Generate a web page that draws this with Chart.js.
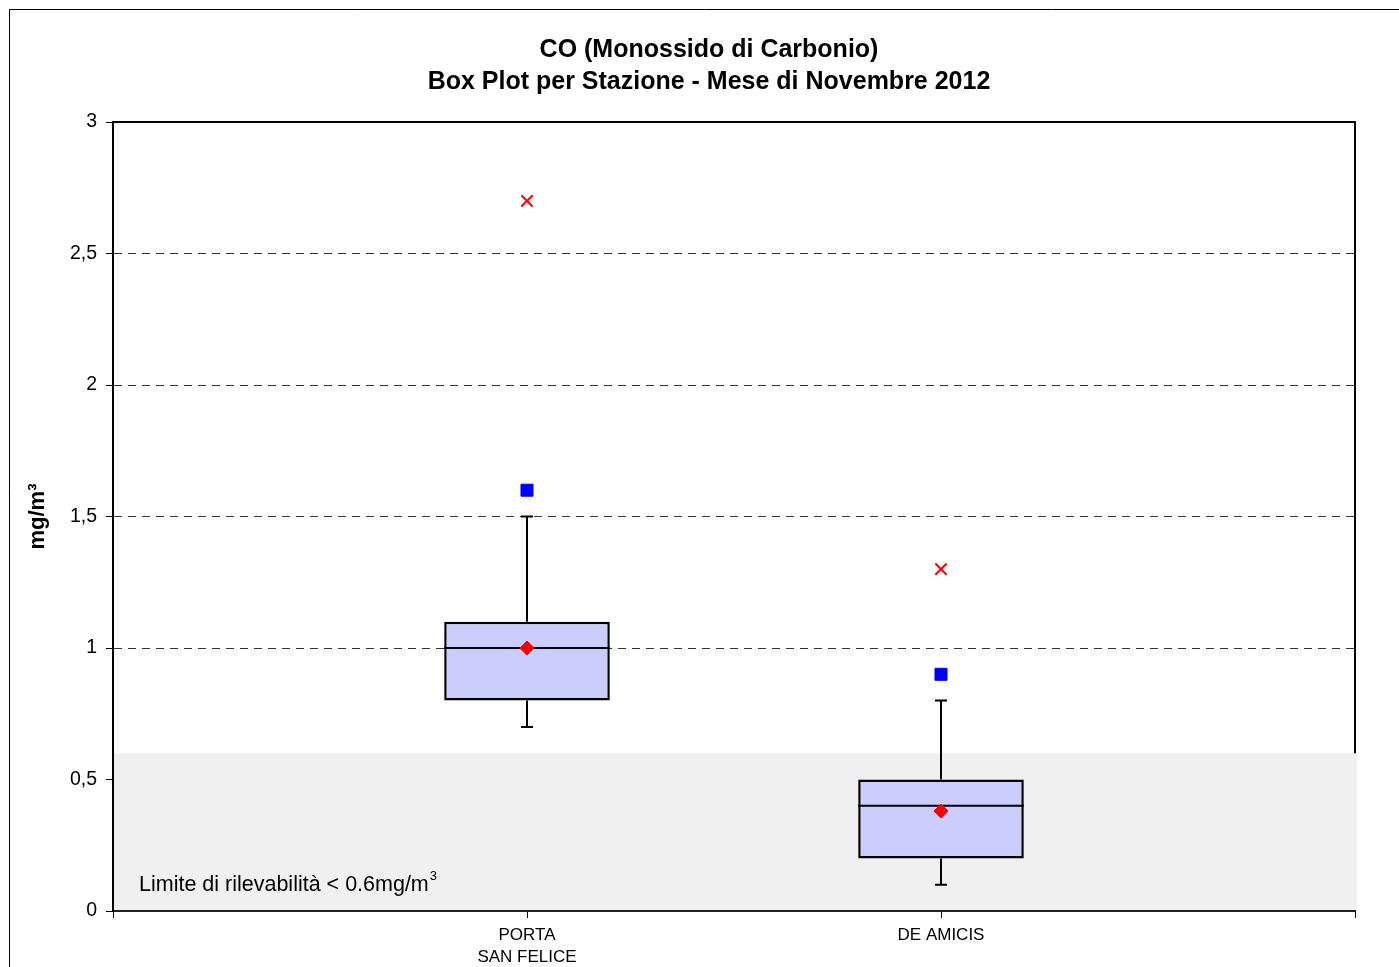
<!DOCTYPE html>
<html>
<head>
<meta charset="utf-8">
<script src="https://cdn.jsdelivr.net/npm/chart.js@4.4.0/dist/chart.umd.min.js"></script>
<style>
  html, body { margin: 0; padding: 0; background: #fff; }
  #wrap { width: 1399px; height: 967px; position: relative; }
  canvas { display: block; }
</style>
</head>
<body>
<div id="wrap"><canvas id="c" width="1399" height="967"></canvas></div>
<script>
// ---- data ----
const categories = [['PORTA', 'SAN FELICE'], 'DE AMICIS'];
const whiskerMin = [0.7, 0.1];
const q1 = [0.8, 0.2];
const median = [1.0, 0.4];
const q3 = [1.1, 0.5];
const whiskerMax = [1.5, 0.8];
const mean = [1.0, 0.38];
const p95 = [1.6, 0.9];      // blue square
const maxVal = [2.7, 1.3];   // red cross
const yTickLabels = ['0', '0,5', '1', '1,5', '2', '2,5', '3'];
const detectionLimit = 0.6;
const titleLines = ['CO (Monossido di Carbonio)', 'Box Plot per Stazione - Mese di Novembre 2012'];
const bandText = 'Limite di rilevabilità < 0.6mg/m';

// category axis with empty slots at both ends
const labels = [''].concat(categories, ['']);
const pad = arr => [null].concat(arr, [null]);
const boxData = pad(q1.map((v, i) => [v, q3[i]]));

const FONT = '"Liberation Sans", Arial, sans-serif';

const boxPlugin = {
  id: 'boxExtras',
  beforeDraw(chart) {
    const ctx = chart.ctx;
    ctx.save();
    ctx.strokeStyle = '#000';
    ctx.lineWidth = 1;
    ctx.beginPath();
    ctx.moveTo(9.5, 1000); ctx.lineTo(9.5, 9.5); ctx.lineTo(1420, 9.5);
    ctx.stroke();
    // title
    ctx.fillStyle = '#000';
    ctx.font = 'bold 25px ' + FONT;
    ctx.textAlign = 'center';
    ctx.textBaseline = 'middle';
    ctx.fillText(titleLines[0], 709, 50);
    ctx.fillText(titleLines[1], 709, 82);
    ctx.restore();
  },
  beforeDatasetsDraw(chart) {
    const ctx = chart.ctx;
    const a = chart.chartArea;
    const y = chart.scales.y;
    const yTop = y.getPixelForValue(detectionLimit);
    const yBot = y.getPixelForValue(0);
    ctx.save();
    ctx.fillStyle = '#f0f0f0';
    ctx.fillRect(a.left + 1, yTop, a.right - a.left + 1, yBot - yTop - 1);
    // top and right frame
    ctx.strokeStyle = '#000';
    ctx.lineWidth = 2;
    ctx.beginPath();
    ctx.moveTo(a.left, a.top);
    ctx.lineTo(a.right, a.top);
    ctx.lineTo(a.right, yTop);
    ctx.stroke();
    // band text
    ctx.fillStyle = '#000';
    ctx.font = '21.5px ' + FONT;
    ctx.textAlign = 'left';
    ctx.textBaseline = 'alphabetic';
    ctx.fillText(bandText, 139, 891);
    const w = ctx.measureText(bandText).width;
    ctx.font = '13px ' + FONT;
    ctx.fillText('3', 139 + w + 1, 880);
    ctx.restore();
  },
  afterDatasetDraw(chart, args) {
    if (args.index !== 0) return;
    const ctx = chart.ctx;
    const x = chart.scales.x, y = chart.scales.y;
    const meta = chart.getDatasetMeta(0);
    ctx.save();
    ctx.strokeStyle = '#000';
    ctx.lineWidth = 2;
    categories.forEach((c, i) => {
      const cx = Math.round(x.getPixelForValue(i + 1));
      const bar = meta.data[i + 1];
      const half = bar.width / 2;
      const yMin = y.getPixelForValue(whiskerMin[i]);
      const yQ1 = y.getPixelForValue(q1[i]);
      const yQ3 = y.getPixelForValue(q3[i]);
      const yMax = y.getPixelForValue(whiskerMax[i]);
      const yMed = y.getPixelForValue(median[i]);
      ctx.beginPath();
      ctx.moveTo(cx, yQ1); ctx.lineTo(cx, yMin);
      ctx.moveTo(cx - 6, yMin); ctx.lineTo(cx + 6, yMin);
      ctx.moveTo(cx, yQ3); ctx.lineTo(cx, yMax);
      ctx.moveTo(cx - 6, yMax); ctx.lineTo(cx + 6, yMax);
      ctx.moveTo(cx - half, yMed); ctx.lineTo(cx + half, yMed);
      ctx.stroke();
    });
    ctx.restore();
  }
};

new Chart(document.getElementById('c'), {
  type: 'bar',
  data: {
    labels: labels,
    datasets: [
      {
        label: 'box',
        data: boxData,
        backgroundColor: '#ccccff',
        borderColor: '#000',
        borderWidth: 2.5,
        borderSkipped: false,
        categoryPercentage: 1,
        barPercentage: 0.4,
        order: 10
      },
      {
        type: 'line', label: 'mean', data: pad(mean), showLine: false,
        pointStyle: 'rectRot', pointRadius: 7, pointBackgroundColor: '#ff0000',
        pointBorderColor: '#ff0000', pointBorderWidth: 1, order: 1
      },
      {
        type: 'line', label: 'p95', data: pad(p95), showLine: false,
        pointStyle: 'rect', pointRadius: 8.5, pointBackgroundColor: '#0000ff',
        pointBorderColor: '#0000ff', pointBorderWidth: 1, order: 2
      },
      {
        type: 'line', label: 'max', data: pad(maxVal), showLine: false,
        pointStyle: 'crossRot', pointRadius: 8, pointBackgroundColor: '#ff0000',
        pointBorderColor: '#ff0000', pointBorderWidth: 2, order: 3
      }
    ]
  },
  options: {
    responsive: false,
    animation: false,
    layout: { padding: { left: 20, right: 44, top: 122, bottom: 0 } },
    plugins: {
      legend: { display: false },
      title: { display: false },
      tooltip: { enabled: false }
    },
    scales: {
      x: {
        offset: false,
        grid: { offset: false, drawOnChartArea: false, tickLength: 7, tickColor: '#000', tickWidth: 1 },
        border: { color: '#222', width: 2 },
        ticks: {
          autoSkip: false, maxRotation: 0, padding: 7, color: '#000',
          font: { family: FONT, size: 17, lineHeight: 1.25 }
        },
        afterFit(s) { s.height = 56; }
      },
      y: {
        min: 0, max: 3,
        ticks: {
          stepSize: 0.5, padding: 9, color: '#000',
          font: { family: FONT, size: 19.5 },
          callback: (v, i) => yTickLabels[i]
        },
        grid: {
          tickLength: 7, tickColor: '#000', tickWidth: 1, tickBorderDash: [],
          lineWidth: 1,
          color: ctx => (ctx.tick && (ctx.tick.value === 0 || ctx.tick.value === 3)) ? 'rgba(0,0,0,0)' : '#333'
        },
        border: { color: '#000', width: 2, dash: [8, 6] },
        title: {
          display: true, text: 'mg/m³', color: '#000',
          font: { family: FONT, size: 22, weight: 'bold', lineHeight: 1.2 },
          padding: { top: 5, bottom: 0 }
        },
        afterFit(s) { s.width = 93; }
      }
    }
  },
  plugins: [boxPlugin]
});
</script>
</body>
</html>
